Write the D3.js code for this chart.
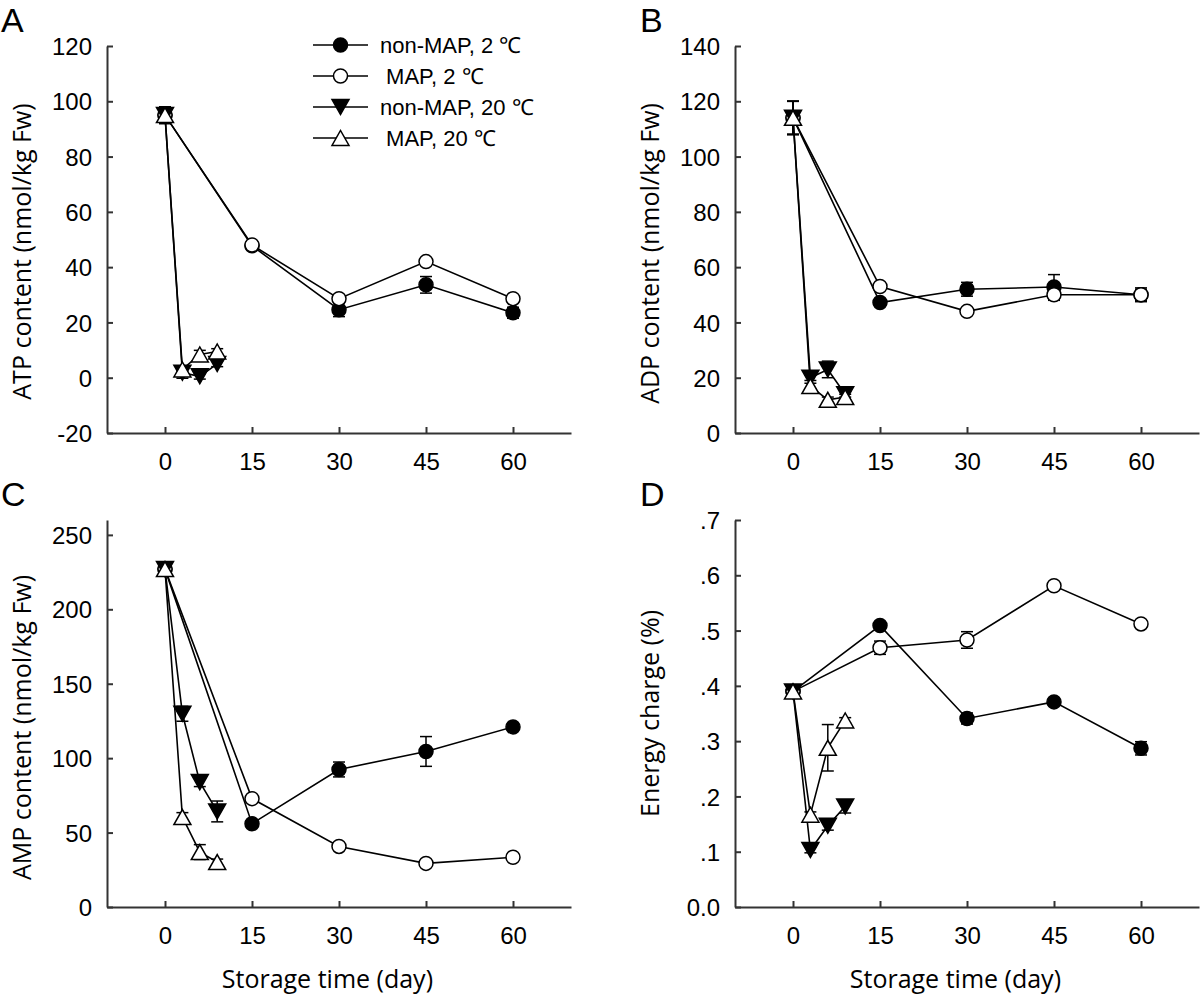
<!DOCTYPE html>
<html><head><meta charset="utf-8">
<script src="https://cdn.jsdelivr.net/npm/d3@7"></script>
<style>
html,body{margin:0;padding:0;background:#fff;}
svg{display:block;}
</style></head>
<body>
<svg id="chart" width="1200" height="1005"></svg>
<script>
// ---------- DATA ----------
const days2 = [0, 15, 30, 45, 60];
const days20 = [0, 3, 6, 9];
const seriesNames = ["non-MAP, 2 \u2103", " MAP, 2 \u2103", "non-MAP, 20 \u2103", " MAP, 20 \u2103"];

// ATP (A)
const atpNonMap2 = [95, 47.7, 24.6, 33.6, 23.5];
const atpNonMap2Err = [3, 1, 2.5, 3, 2];
const atpMap2 = [95, 48, 28.6, 42, 28.6];
const atpMap2Err = [3, 1, 1, 1, 1];
const atpNonMap20 = [95, 1.8, 0.5, 5];
const atpNonMap20Err = [3, 2, 1, 1];
const atpMap20 = [95, 3, 8.4, 9.5];
const atpMap20Err = [3, 1, 1.5, 1];

// ADP (B)
const adpNonMap2 = [114, 47.2, 52, 52.8, 50];
const adpNonMap2Err = [6, 1, 2.5, 4.5, 2.5];
const adpMap2 = [114, 53, 44, 50, 50];
const adpMap2Err = [6, 1, 1, 2, 2];
const adpNonMap20 = [114, 20, 23, 14];
const adpNonMap20Err = [6, 1, 3, 1];
const adpMap20 = [114, 17, 12, 13];
const adpMap20Err = [6, 1, 1, 1];

// AMP (C)
const ampNonMap2 = [227, 56, 92.4, 104.5, 121];
const ampNonMap2Err = [4, 2, 5, 10, 2];
const ampMap2 = [227, 72.8, 40.7, 29.3, 33.4];
const ampMap2Err = [4, 2, 2, 2, 2];
const ampNonMap20 = [227, 129.8, 83.9, 64.2];
const ampNonMap20Err = [4, 5, 3, 7];
const ampMap20 = [227, 60.4, 36.9, 30.2];
const ampMap20Err = [4, 3, 5, 2];

// Energy charge (D)
const ecNonMap2 = [0.39, 0.509, 0.341, 0.371, 0.287];
const ecNonMap2Err = [0.005, 0.005, 0.01, 0.005, 0.012];
const ecMap2 = [0.39, 0.469, 0.483, 0.581, 0.512];
const ecMap2Err = [0.005, 0.012, 0.015, 0.005, 0.005];
const ecNonMap20 = [0.39, 0.103, 0.147, 0.182];
const ecNonMap20Err = [0.005, 0.005, 0.008, 0.012];
const ecMap20 = [0.39, 0.167, 0.288, 0.3375];
const ecMap20Err = [0.005, 0.005, 0.042, 0.005];

// tick labels
const xTicks = [0, 15, 30, 45, 60];
const yTicksA = [-20, 0, 20, 40, 60, 80, 100, 120];
const yTicksB = [0, 20, 40, 60, 80, 100, 120, 140];
const yTicksC = [0, 50, 100, 150, 200, 250];
const yTicksD = [0, 0.1, 0.2, 0.3, 0.4, 0.5, 0.6, 0.7];

// ---------- DRAW ----------
const svg = d3.select("#chart");
const tickFont = "'Liberation Sans', Arial, sans-serif";
const titleFont = "'Open Sans', 'Liberation Sans', sans-serif";

const markerTypes = ["filledCircle", "openCircle", "filledDown", "openUp"];
const intFmt = d => String(d);

function drawMarker(g, type, x, y) {
  if (type === "filledCircle" || type === "openCircle") {
    g.append("circle").attr("cx", x).attr("cy", y).attr("r", 7)
      .attr("fill", type === "filledCircle" ? "#000" : "#fff")
      .attr("stroke", "#000").attr("stroke-width", 1.5);
  } else {
    const w = 8.5, h = 7.5;
    let p;
    if (type === "filledDown") p = `M${x - w},${y - h}L${x + w},${y - h}L${x},${y + h}Z`;
    else p = `M${x - w},${y + h}L${x + w},${y + h}L${x},${y - h}Z`;
    g.append("path").attr("d", p)
      .attr("fill", type === "filledDown" ? "#000" : "#fff")
      .attr("stroke", "#000").attr("stroke-width", 1.5).attr("stroke-linejoin", "miter");
  }
}

function panel(cfg) {
  const x = d3.scaleLinear().domain([-10, 70]).range([cfg.x0, cfg.x0 + 464]);
  const y = d3.scaleLinear().domain(cfg.yDomain).range([cfg.bottom, cfg.top]);
  const g = svg.append("g");

  // axes
  const xAx = g.append("g").attr("transform", `translate(0,${cfg.bottom})`)
    .call(d3.axisBottom(x).tickValues(xTicks).tickSizeInner(-6).tickSizeOuter(0).tickPadding(14).tickFormat(intFmt));
  const yAx = g.append("g").attr("transform", `translate(${cfg.x0},0)`)
    .call(d3.axisLeft(y).tickValues(cfg.yTicks).tickSizeInner(-6).tickSizeOuter(0).tickPadding(15).tickFormat(cfg.fmt));
  [xAx, yAx].forEach(a => {
    a.select(".domain").attr("stroke", "#333").attr("stroke-width", 2);
    a.selectAll(".tick line").attr("stroke", "#333").attr("stroke-width", 2);
    a.selectAll(".tick text").attr("font-family", tickFont).attr("font-size", 24).attr("fill", "#000");
  });
  yAx.selectAll(".tick text").attr("dy", "0.36em");
  xAx.selectAll(".tick text").attr("dy", "0.95em");

  // series
  cfg.series.forEach((s, i) => {
    const pts = s.days.map((d, k) => ({ d, v: s.vals[k], e: s.err[k] }));
    const sg = g.append("g");
    sg.append("path").datum(pts)
      .attr("d", d3.line().x(p => x(p.d)).y(p => y(p.v)))
      .attr("fill", "none").attr("stroke", "#000").attr("stroke-width", 1.6);
    pts.forEach(p => {
      const cx = x(p.d), y1 = y(p.v + p.e), y2 = y(p.v - p.e);
      sg.append("line").attr("x1", cx).attr("x2", cx).attr("y1", y1).attr("y2", y2).attr("stroke", "#000").attr("stroke-width", 1.5);
      [y1, y2].forEach(yy => sg.append("line").attr("x1", cx - 6).attr("x2", cx + 6).attr("y1", yy).attr("y2", yy).attr("stroke", "#000").attr("stroke-width", 1.5));
    });
    pts.forEach(p => drawMarker(sg, markerTypes[i], x(p.d), y(p.v)));
  });

  // titles
  g.append("text").attr("x", cfg.letterX).attr("y", cfg.top - 14)
    .attr("font-family", tickFont).attr("font-size", 34).text(cfg.letter);
  g.append("text")
    .attr("transform", `translate(${cfg.x0 - 76},${(cfg.top + cfg.bottom) / 2 + cfg.yTitleShift}) rotate(-90)`)
    .attr("text-anchor", "middle").attr("font-family", titleFont).attr("font-size", 25).text(cfg.yTitle);
  if (cfg.xTitle) {
    g.append("text").attr("x", x(28)).attr("y", 988).attr("text-anchor", "middle")
      .attr("font-family", titleFont).attr("font-size", 25).text(cfg.xTitle);
  }
}

const mk = (v2a, e2a, v2b, e2b, v20a, e20a, v20b, e20b) => [
  { days: days2, vals: v2a, err: e2a },
  { days: days2, vals: v2b, err: e2b },
  { days: days20, vals: v20a, err: e20a },
  { days: days20, vals: v20b, err: e20b }
];

panel({ letter: "A", letterX: 1, x0: 107, top: 46, bottom: 433, yDomain: [-20, 120], yTicks: yTicksA, fmt: intFmt,
  yTitle: "ATP content (nmol/kg Fw)", yTitleShift: 12,
  series: mk(atpNonMap2, atpNonMap2Err, atpMap2, atpMap2Err, atpNonMap20, atpNonMap20Err, atpMap20, atpMap20Err) });
panel({ letter: "B", letterX: 640, x0: 735, top: 46, bottom: 433, yDomain: [0, 140], yTicks: yTicksB, fmt: intFmt,
  yTitle: "ADP content (nmol/kg Fw)", yTitleShift: 14,
  series: mk(adpNonMap2, adpNonMap2Err, adpMap2, adpMap2Err, adpNonMap20, adpNonMap20Err, adpMap20, adpMap20Err) });
panel({ letter: "C", letterX: 1, x0: 107, top: 520, bottom: 907, yDomain: [0, 260], yTicks: yTicksC, fmt: intFmt,
  yTitle: "AMP content (nmol/kg Fw)", yTitleShift: 14, xTitle: "Storage time (day)",
  series: mk(ampNonMap2, ampNonMap2Err, ampMap2, ampMap2Err, ampNonMap20, ampNonMap20Err, ampMap20, ampMap20Err) });
panel({ letter: "D", letterX: 640, x0: 735, top: 520, bottom: 907, yDomain: [0, 0.7], yTicks: yTicksD,
  fmt: d => d === 0 ? "0.0" : d3.format(".1f")(d).replace(/^0/, ""),
  yTitle: "Energy charge (%)", yTitleShift: 0, xTitle: "Storage time (day)",
  series: mk(ecNonMap2, ecNonMap2Err, ecMap2, ecMap2Err, ecNonMap20, ecNonMap20Err, ecMap20, ecMap20Err) });

// legend (panel A)
const lg = svg.append("g");
const rowsY = [45, 76, 107, 138];
seriesNames.forEach((name, i) => {
  const yy = rowsY[i];
  lg.append("line").attr("x1", 313).attr("x2", 368).attr("y1", yy).attr("y2", yy).attr("stroke", "#000").attr("stroke-width", 1.6);
  drawMarker(lg, markerTypes[i], 340.5, yy);
  lg.append("text").attr("x", 380).attr("y", yy + 8).attr("font-family", tickFont).attr("font-size", 22)
    .attr("xml:space", "preserve").style("white-space", "pre").text(name);
});
</script>
</body></html>
